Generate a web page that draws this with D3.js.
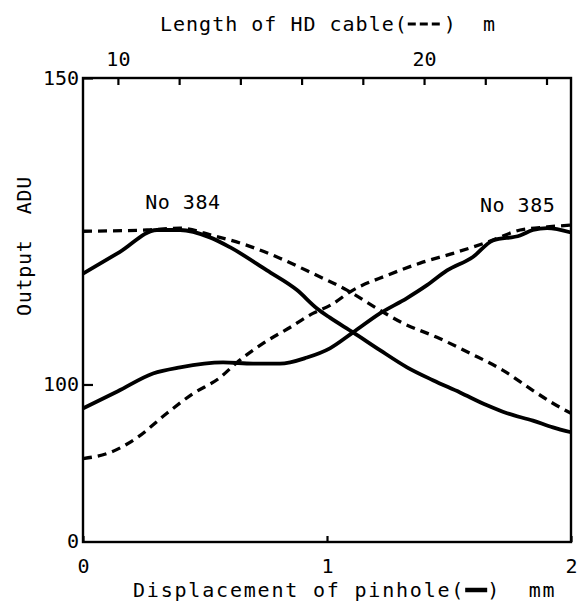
<!DOCTYPE html>
<html><head><meta charset="utf-8">
<script src="https://cdn.jsdelivr.net/npm/d3@7"></script>
<style>body{margin:0;background:#fff}</style>
</head><body>
<svg id="c" width="581" height="605"></svg>
<script>
// Bottom axis: displacement of pinhole (mm), solid curves
const xTicks = [0, 1, 2];
// Top axis: length of HD cable (m), dashed curves
const topTicks = [10, 12, 14, 16, 18, 20, 22, 24];
const topLabels = [10, 20];
// Y axis (broken: bottom labelled 0)
const yTicks = [100, 150];

// Solid No 384 : [mm, ADU]
const solid384 = [[0,118.1],[0.15,121.6],[0.303,125.2],[0.398,125.2],[0.52,124.0],[0.602,122.4],[0.754,118.6],[0.877,115.4],[0.959,112.4],[1.012,110.9],[1.107,108.5],[1.217,105.6],[1.328,102.8],[1.434,100.7],[1.545,98.7],[1.656,96.6],[1.738,95.3],[1.844,94.1],[1.926,93.0],[2.0,92.2]];
// Solid No 385
const solid385 = [[0,96.1],[0.143,98.9],[0.287,101.8],[0.398,102.8],[0.574,103.6],[0.697,103.4],[0.807,103.4],[0.918,104.4],[1.012,105.9],[1.107,108.5],[1.217,111.6],[1.328,114.1],[1.41,116.2],[1.492,118.6],[1.598,120.8],[1.68,123.5],[1.791,124.3],[1.844,125.2],[1.902,125.5],[2.0,124.8]];
// Dashed No 384 : [m, ADU]
const dashed384 = [[8.86,125.0],[10.95,125.2],[12.03,125.5],[13.10,124.3],[14.22,122.7],[15.29,120.6],[16.37,118.1],[17.48,115.4],[18.46,112.4],[19.31,110.0],[20.42,107.7],[21.50,105.1],[22.58,102.3],[23.56,99.0],[24.22,96.9],[24.80,95.3]];
// Dashed No 385
const dashed385 = [[8.86,87.9],[9.74,88.9],[10.62,91.3],[11.60,95.3],[12.45,98.5],[13.33,101.1],[13.89,103.6],[14.74,106.7],[15.62,109.3],[16.37,111.6],[16.93,112.9],[17.68,115.4],[18.79,117.8],[19.87,119.8],[20.95,121.4],[22.06,123.2],[23.14,125.2],[24.02,125.7],[24.77,126.0]];

const labels = [{t:"No 384", x:0.255, y:128.6},{t:"No 385", x:1.627, y:128.2}];

const L=83, R=571, T=78, B=542;
const FONT = "'DejaVu Sans Mono', monospace";
const FS = 20;
const svg = d3.select("#c");
const x = d3.scaleLinear().domain([0,2]).range([L,R]);
const x2 = d3.scaleLinear().domain([8.86,24.8]).range([L,R]);
const y = d3.scaleLinear().domain([74.3,150]).range([B,T]);

// curves
const lineS = d3.line().x(d=>x(d[0])).y(d=>y(d[1])).curve(d3.curveMonotoneX);
const lineD = d3.line().x(d=>x2(d[0])).y(d=>y(d[1])).curve(d3.curveMonotoneX);
[solid384, solid385].forEach(s=>svg.append("path").attr("d",lineS(s)).attr("fill","none").attr("stroke","#000").attr("stroke-width",3.8).attr("stroke-linejoin","round"));
[dashed384, dashed385].forEach(s=>svg.append("path").attr("d",lineD(s)).attr("fill","none").attr("stroke","#000").attr("stroke-width",3.3).attr("stroke-dasharray","9,6"));

// frame
svg.append("rect").attr("x",L).attr("y",T).attr("width",R-L).attr("height",B-T).attr("fill","none").attr("stroke","#000").attr("stroke-width",2.4);

// top axis
const gTop = svg.append("g").attr("transform",`translate(0,${T})`)
  .call(d3.axisTop(x2).tickValues(topTicks).tickSize(-7).tickFormat(d=>topLabels.includes(d)?d:""));
gTop.select(".domain").remove();
gTop.selectAll("line").attr("stroke-width",2.2);
gTop.selectAll("text").attr("font-family",FONT).attr("font-size",FS).attr("fill","#000").attr("dy","-0.4em").attr("y",-4);

// bottom axis
const gB = svg.append("g").attr("transform",`translate(0,${B})`)
  .call(d3.axisBottom(x).tickValues(xTicks).tickSize(-6).tickFormat(d3.format("d")));
gB.select(".domain").remove();
gB.selectAll("line").attr("stroke-width",2.2);
gB.selectAll("text").attr("font-family",FONT).attr("font-size",FS).attr("fill","#000").attr("y",17);

// left axis
const gL = svg.append("g").attr("transform",`translate(${L},0)`)
  .call(d3.axisLeft(y).tickValues(yTicks).tickSize(-10).tickFormat(d3.format("d")));
gL.select(".domain").remove();
gL.selectAll("line").attr("stroke-width",2.2);
gL.selectAll("text").attr("font-family",FONT).attr("font-size",FS).attr("fill","#000").attr("x",-4);
svg.append("text").attr("x",L-4).attr("y",B).attr("dy","0.32em").attr("text-anchor","end")
  .attr("font-family",FONT).attr("font-size",FS).text("0");

// labels
labels.forEach(l=>svg.append("text").attr("x",x(l.x)).attr("y",y(l.y)).attr("font-family",FONT).attr("font-size",FS).attr("letter-spacing",0.5).text(l.t));

// y title
svg.append("text").attr("transform","translate(31,246) rotate(-90)").attr("text-anchor","middle")
  .attr("font-family",FONT).attr("font-size",FS).attr("letter-spacing",0.7).attr("xml:space","preserve").text("Output  ADU");

// titles with legend symbols
function titleWithLegend(x0, yb, pre, post, ls, legW, drawLeg){
  const t = svg.append("text").attr("x",x0).attr("y",yb).attr("font-family",FONT).attr("font-size",FS)
    .attr("letter-spacing",ls).attr("xml:space","preserve").text(pre);
  const w = t.node().getComputedTextLength();
  const lx = x0 + w;
  drawLeg(lx, lx+legW);
  svg.append("text").attr("x",lx+legW).attr("y",yb).attr("font-family",FONT).attr("font-size",FS)
    .attr("letter-spacing",ls).attr("xml:space","preserve").text(post);
}
titleWithLegend(160, 31, "Length of HD cable(", ")  m", 1.0, 36, (a,b)=>{
  svg.append("line").attr("x1",a).attr("x2",b-2).attr("y1",24).attr("y2",24).attr("stroke","#000").attr("stroke-width",3.2).attr("stroke-dasharray","8,4");
});
titleWithLegend(133, 597, "Displacement of pinhole(", ")  mm", 1.8, 22, (a,b)=>{
  svg.append("line").attr("x1",a).attr("x2",b).attr("y1",590).attr("y2",590).attr("stroke","#000").attr("stroke-width",4.5);
});
</script>
</body></html>
